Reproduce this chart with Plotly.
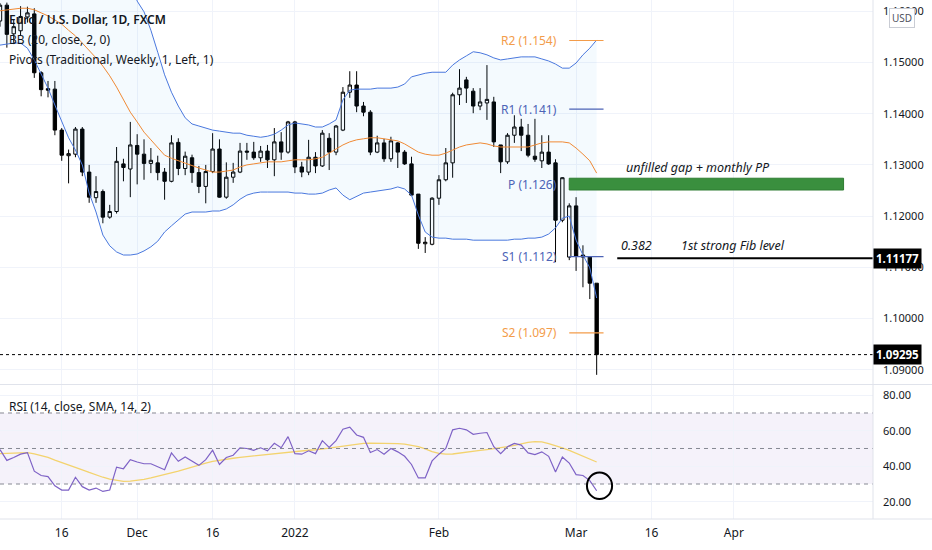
import pandas as pd
import plotly.graph_objects as go
from plotly.subplots import make_subplots

# daily bars, EUR/USD FXCM (weekdays only)
dates = pd.bdate_range("2021-11-03", "2022-03-04")

# OHLC
opens = [
    1.1581, 1.1612, 1.1556, 1.1562, 1.1589, 1.1595, 1.1480, 1.1449, 1.1448, 1.1368,
    1.1318, 1.1321, 1.1370, 1.1286, 1.1236, 1.1248, 1.1198, 1.1209, 1.1302, 1.1292,
    # dec
    1.1338, 1.1321, 1.1303, 1.1304, 1.1286, 1.1268, 1.1344, 1.1293, 1.1314, 1.1285,
    1.1258, 1.1287, 1.1331, 1.1237, 1.1276, 1.1286, 1.1327, 1.1325, 1.1314, 1.1327,
    1.1310, 1.1345, 1.1325,
    # jan
    1.1384, 1.1296, 1.1286, 1.1315, 1.1298, 1.1352, 1.1325, 1.1368, 1.1442, 1.1456,
    1.1415, 1.1403, 1.1325, 1.1343, 1.1312, 1.1343, 1.1325, 1.1302, 1.1243, 1.1146,
    1.1145,
    # feb
    1.1235, 1.1271, 1.1304, 1.1437, 1.1466, 1.1444, 1.1415, 1.1421, 1.1423, 1.1339,
    1.1306, 1.1358, 1.1374, 1.1358, 1.1317, 1.1308, 1.1325, 1.1304, 1.1192, 1.1120,
    # mar
    1.1220, 1.1124, 1.1120, 1.1069,
]
highs = [
    1.1616, 1.1617, 1.1585, 1.1610, 1.1609, 1.1606, 1.1483, 1.1464, 1.1464, 1.1372,
    1.1330, 1.1374, 1.1374, 1.1300, 1.1278, 1.1252, 1.1222, 1.1335, 1.1312, 1.1384,
    1.1360, 1.1350, 1.1333, 1.1318, 1.1294, 1.1358, 1.1352, 1.1326, 1.1320, 1.1298,
    1.1300, 1.1362, 1.1350, 1.1305, 1.1304, 1.1343, 1.1343, 1.1345, 1.1337, 1.1339,
    1.1372, 1.1364, 1.1386,
    1.1386, 1.1306, 1.1349, 1.1325, 1.1368, 1.1362, 1.1378, 1.1452, 1.1483, 1.1483,
    1.1423, 1.1407, 1.1357, 1.1351, 1.1355, 1.1345, 1.1329, 1.1316, 1.1243, 1.1159,
    1.1237,
    1.1280, 1.1333, 1.1441, 1.1487, 1.1472, 1.1450, 1.1450, 1.1495, 1.1433, 1.1339,
    1.1362, 1.1397, 1.1390, 1.1380, 1.1390, 1.1358, 1.1358, 1.1311, 1.1276, 1.1225,
    1.1237, 1.1143, 1.1120, 1.1069,
]
lows = [
    1.1570, 1.1529, 1.1536, 1.1553, 1.1578, 1.1470, 1.1434, 1.1432, 1.1358, 1.1308,
    1.1264, 1.1315, 1.1278, 1.1226, 1.1226, 1.1186, 1.1195, 1.1205, 1.1268, 1.1237,
    1.1262, 1.1271, 1.1284, 1.1270, 1.1232, 1.1266, 1.1280, 1.1280, 1.1265, 1.1245,
    1.1225, 1.1284, 1.1236, 1.1234, 1.1265, 1.1284, 1.1310, 1.1310, 1.1306, 1.1294,
    1.1278, 1.1310, 1.1322,
    1.1284, 1.1276, 1.1280, 1.1284, 1.1296, 1.1290, 1.1319, 1.1366, 1.1431, 1.1403,
    1.1395, 1.1319, 1.1323, 1.1306, 1.1306, 1.1294, 1.1300, 1.1239, 1.1136, 1.1128,
    1.1143,
    1.1222, 1.1268, 1.1275, 1.1417, 1.1421, 1.1401, 1.1407, 1.1388, 1.1335, 1.1284,
    1.1302, 1.1343, 1.1327, 1.1315, 1.1306, 1.1294, 1.1300, 1.1110, 1.1188, 1.1114,
    1.1093, 1.1061, 1.1038, 1.0890,
]
closes = [
    1.1612, 1.1555, 1.1570, 1.1590, 1.1597, 1.1480, 1.1447, 1.1446, 1.1368, 1.1319,
    1.1322, 1.1370, 1.1286, 1.1237, 1.1248, 1.1198, 1.1209, 1.1307, 1.1295, 1.1339,
    1.1321, 1.1303, 1.1309, 1.1285, 1.1268, 1.1343, 1.1293, 1.1317, 1.1285, 1.1258,
    1.1287, 1.1331, 1.1237, 1.1276, 1.1286, 1.1327, 1.1325, 1.1314, 1.1327, 1.1310,
    1.1345, 1.1325, 1.1384,
    1.1296, 1.1286, 1.1315, 1.1298, 1.1362, 1.1325, 1.1376, 1.1442, 1.1456, 1.1415,
    1.1403, 1.1325, 1.1343, 1.1312, 1.1347, 1.1325, 1.1302, 1.1241, 1.1147, 1.1149,
    1.1235,
    1.1271, 1.1304, 1.1437, 1.1450, 1.1450, 1.1415, 1.1423, 1.1428, 1.1345, 1.1306,
    1.1358, 1.1374, 1.1358, 1.1319, 1.1311, 1.1325, 1.1302, 1.1192, 1.1275, 1.1220,
    1.1122, 1.1120, 1.1069, 1.09295,
]

# Bollinger bands (20, close, 2) as drawn
bb_upper = [
    1.1667, 1.1669, 1.1671, 1.1675, 1.1685, 1.1700, 1.1716, 1.1731, 1.1749, 1.1767,
    1.1774, 1.1774, 1.1776, 1.1790, 1.1795, 1.1798, 1.1780, 1.1750, 1.1712, 1.1665,
    1.1620, 1.1599, 1.1563, 1.1520, 1.1476, 1.1442, 1.1415, 1.1392, 1.1380, 1.1376,
    1.1372, 1.1368, 1.1366, 1.1364, 1.1362, 1.1362, 1.1358, 1.1356, 1.1354, 1.1356,
    1.1360, 1.1368, 1.1378,
    1.1382, 1.1380, 1.1378, 1.1374, 1.1374, 1.1380, 1.1388, 1.1427, 1.1446, 1.1448,
    1.1448, 1.1448, 1.1450, 1.1450, 1.1450, 1.1452, 1.1458, 1.1472, 1.1476, 1.1479,
    1.1481,
    1.1481, 1.1481, 1.1495, 1.1505, 1.1513, 1.1521, 1.1519, 1.1515, 1.1509, 1.1505,
    1.1507, 1.1509, 1.1511, 1.1511, 1.1511, 1.1507, 1.1503, 1.1497, 1.1489, 1.1489,
    1.1499, 1.1515, 1.1528, 1.1544,
]
bb_basis = [
    1.1601, 1.1603, 1.1605, 1.1606, 1.1606, 1.1603, 1.1597, 1.1591, 1.1583, 1.1575,
    1.1563, 1.1552, 1.1538, 1.1524, 1.1509, 1.1493, 1.1474, 1.1452, 1.1427, 1.1403,
    1.1384, 1.1364, 1.1349, 1.1333, 1.1319, 1.1313, 1.1308, 1.1304, 1.1298, 1.1294,
    1.1290, 1.1286, 1.1286, 1.1288, 1.1290, 1.1296, 1.1300, 1.1302, 1.1304, 1.1306,
    1.1306, 1.1306, 1.1308,
    1.1310, 1.1310, 1.1310, 1.1312, 1.1315, 1.1323, 1.1331, 1.1339, 1.1345, 1.1349,
    1.1351, 1.1353, 1.1353, 1.1351, 1.1349, 1.1347, 1.1341, 1.1333, 1.1325, 1.1321,
    1.1319,
    1.1319, 1.1323, 1.1329, 1.1335, 1.1339, 1.1341, 1.1343, 1.1341, 1.1337, 1.1335,
    1.1335, 1.1335, 1.1335, 1.1335, 1.1339, 1.1343, 1.1345, 1.1345, 1.1345, 1.1343,
    1.1333, 1.1321, 1.1308, 1.1284,
]
bb_lower = [
    1.1534, 1.1536, 1.1538, 1.1538, 1.1528, 1.1505, 1.1478, 1.1450, 1.1417, 1.1384,
    1.1353, 1.1329, 1.1300, 1.1245, 1.1208, 1.1163, 1.1142, 1.1130, 1.1124, 1.1124,
    1.1126, 1.1132, 1.1140, 1.1151, 1.1169, 1.1181, 1.1192, 1.1204, 1.1208, 1.1208,
    1.1208, 1.1210, 1.1210, 1.1214, 1.1222, 1.1233, 1.1241, 1.1245, 1.1247, 1.1247,
    1.1247, 1.1247, 1.1247,
    1.1245, 1.1245, 1.1243, 1.1243, 1.1245, 1.1251, 1.1255, 1.1241, 1.1232, 1.1239,
    1.1245, 1.1247, 1.1249, 1.1251, 1.1253, 1.1257, 1.1253, 1.1241, 1.1202, 1.1169,
    1.1159,
    1.1157, 1.1157, 1.1155, 1.1155, 1.1155, 1.1153, 1.1153, 1.1153, 1.1153, 1.1153,
    1.1153, 1.1155, 1.1155, 1.1157, 1.1157, 1.1159, 1.1165, 1.1177, 1.1196, 1.1200,
    1.1153, 1.1124, 1.1099, 1.1040,
]

# RSI (14) and its SMA (14)
rsi = [
    49.4, 43.3, 44.9, 46.8, 47.7, 37.2, 34.8, 34.2, 29.0, 26.6,
    26.6, 33.8, 28.5, 26.6, 27.7, 25.8, 26.6, 39.5, 38.6, 43.7,
    42.4, 41.4, 41.4, 39.5, 38.0, 47.5, 42.8, 45.2, 42.8, 40.5,
    43.7, 49.0, 41.0, 44.9, 46.2, 50.4, 50.0, 49.0, 50.4, 48.7,
    52.9, 50.4, 56.7,
    47.1, 46.8, 48.7, 47.1, 54.4, 50.6, 54.4, 60.9, 62.0, 57.6,
    56.3, 47.7, 49.4, 46.8, 50.0, 48.1, 45.6, 41.0, 33.4, 33.4,
    43.0,
    46.8, 50.0, 60.5, 61.4, 60.5, 58.0, 58.6, 59.0, 51.0, 47.1,
    51.0, 52.9, 51.9, 47.5, 46.6, 48.1, 45.6, 36.7, 45.2, 41.8,
    35.3, 34.8, 31.9, 26.2,
]
rsi_ma = [
    47.1, 47.3, 47.5, 47.7, 47.7, 47.0, 46.2, 45.0, 43.5, 42.2,
    41.0, 39.5, 38.0, 36.5, 35.0, 33.8, 32.8, 32.0, 31.5, 31.6,
    32.0, 32.6, 33.4, 34.3, 35.2, 36.2, 37.3, 38.4, 39.6, 40.8,
    41.8, 42.7, 43.4, 44.0, 44.5, 45.0, 45.4, 45.8, 46.3, 46.8,
    47.3, 47.7, 48.2,
    48.6, 48.8, 49.0, 49.3, 49.6, 50.2, 50.8, 51.4, 52.0, 52.6,
    52.9, 53.0, 53.0, 52.9, 52.8, 52.7, 52.5, 51.9, 51.0, 49.8,
    48.2,
    47.3, 46.8, 46.9, 47.3, 47.9, 48.4, 48.9, 49.4, 49.8, 50.3,
    51.0, 51.8, 52.7, 53.5, 53.9, 53.7, 52.7, 51.6, 50.4, 48.9,
    47.3, 45.8, 44.2, 42.4,
]

# weekly pivots for the week of Feb 28
pivot_names = ["R2", "R1", "P", "S1", "S2"]
pivot_levels = [1.1543, 1.1409, 1.1262, 1.1121, 1.0972]
pivot_colors = ["#f39c4a", "#4c63b6", "#4c63b6", "#4c63b6", "#f39c4a"]
pivot_start, pivot_end = "2022-02-28", "2022-03-07"

# drawings
gap_zone = [1.1251, 1.1274]
gap_start, gap_end = "2022-02-28", "2022-04-25"
fib_level = 1.11177
fib_start = "2022-03-09"
last_price = 1.09295

tick_dates = ["2021-11-16", "2021-12-01", "2021-12-16", "2022-01-03",
              "2022-02-01", "2022-03-01", "2022-03-16", "2022-04-01"]
tick_text = ["16", "Dec", "16", "2022", "Feb", "Mar", "16", "Apr"]

x_start, x_end = "2021-11-03", "2022-04-29 07:00"

W, H = 932, 550
PLOT_W, PLOT_H = 873, 519
TXT = "#131722"
FONT = "Noto Sans"


def py(pix):
    # pixel row -> paper y
    return 1 - pix / PLOT_H


def px(pix):
    # pixel column -> paper x
    return pix / PLOT_W


fig = make_subplots(rows=2, cols=1, shared_xaxes=True)

# Bollinger bands
fig.add_trace(go.Scatter(x=dates, y=bb_upper, mode="lines",
                         line=dict(color="#4a78de", width=1)), row=1, col=1)
fig.add_trace(go.Scatter(x=dates, y=bb_lower, mode="lines", fill="tonexty",
                         fillcolor="rgba(33,150,243,0.05)",
                         line=dict(color="#4a78de", width=1)), row=1, col=1)
fig.add_trace(go.Scatter(x=dates, y=bb_basis, mode="lines",
                         line=dict(color="#f08a35", width=1)), row=1, col=1)

# pivots
for name, lvl, col in zip(pivot_names, pivot_levels, pivot_colors):
    fig.add_trace(go.Scatter(x=[pivot_start, pivot_end], y=[lvl, lvl], mode="lines",
                             line=dict(color=col, width=1.2)), row=1, col=1)
    fig.add_annotation(x=pivot_start, y=lvl, xref="x", yref="y", xanchor="right",
                       yanchor="middle", xshift=-10, showarrow=False,
                       text=f"{name} ({lvl:.3f})",
                       font=dict(family=FONT, size=12, color=col))

# candles
fig.add_trace(go.Candlestick(
    x=dates, open=opens, high=highs, low=lows, close=closes,
    increasing=dict(fillcolor="white", line=dict(color="black", width=1)),
    decreasing=dict(fillcolor="black", line=dict(color="black", width=1)),
    whiskerwidth=0,
), row=1, col=1)

# RSI
fig.add_trace(go.Scatter(x=dates, y=rsi_ma, mode="lines",
                         line=dict(color="#f3d36e", width=1.3)), row=2, col=1)
fig.add_trace(go.Scatter(x=dates, y=rsi, mode="lines",
                         line=dict(color="#7e62c6", width=1.2)), row=2, col=1)

# RSI band and levels
fig.add_shape(type="rect", xref="x2 domain", yref="y2", x0=0, x1=1, y0=30, y1=70,
              fillcolor="rgba(126,87,194,0.08)", line_width=0, layer="below")
for lvl in [70, 50, 30]:
    fig.add_shape(type="line", xref="x2 domain", yref="y2", x0=0, x1=1, y0=lvl, y1=lvl,
                  line=dict(color="#868993", width=1, dash="4px,4px"))

# gap zone + fib line + last price line
fig.add_shape(type="rect", xref="x", yref="y", x0=gap_start, x1=gap_end,
              y0=gap_zone[0], y1=gap_zone[1], fillcolor="#3a8f3e",
              line=dict(color="#2e7d32", width=1))
fig.add_shape(type="line", xref="x", yref="y", x0=fib_start, x1=x_end,
              y0=fib_level, y1=fib_level, line=dict(color="black", width=2))
fig.add_shape(type="line", xref="paper", yref="y", x0=0, x1=1,
              y0=last_price, y1=last_price, line=dict(color="black", width=1, dash="dot"))

# circle on the last RSI reading
fig.add_shape(type="circle", xref="x2", yref="y2", x0="2022-03-02 14:00",
              x1="2022-03-08 06:00", y0=21.5, y1=36.5,
              line=dict(color="black", width=2))

# pane separators
fig.add_shape(type="line", xref="paper", yref="paper", x0=1, x1=1, y0=0, y1=1,
              line=dict(color="#e0e3eb", width=1))
for pix in [384.5, 519]:
    fig.add_shape(type="line", xref="paper", yref="paper", x0=0, x1=px(W),
                  y0=py(pix), y1=py(pix), line=dict(color="#e0e3eb", width=1))

# text drawings
ital = dict(family=FONT, size=12.5, color=TXT)
fig.add_annotation(x="2022-03-10", y=gap_zone[1], xref="x", yref="y", xanchor="left",
                   yanchor="bottom", showarrow=False, font=ital,
                   text="<i>unfilled gap + monthly PP</i>")
fig.add_annotation(x=fib_start, y=fib_level, xref="x", yref="y", xanchor="left",
                   yanchor="bottom", xshift=2, yshift=2, showarrow=False, font=ital,
                   text="<i>0.382</i>")
fig.add_annotation(x="2022-03-22", y=fib_level, xref="x", yref="y", xanchor="left",
                   yanchor="bottom", yshift=2, showarrow=False, font=ital,
                   text="<i>1st strong Fib level</i>")

# legend texts
legend_rows = [
    ("Euro / U.S. Dollar, 1D, FXCM", 19, 600),
    ("BB (20, close, 2, 0)", 39, 400),
    ("Pivots (Traditional, Weekly, 1, Left, 1)", 59, 400),
    ("RSI (14, close, SMA, 14, 2)", 406, 400),
]
for txt, row_pix, wt in legend_rows:
    fig.add_annotation(x=px(7), y=py(row_pix), xref="paper", yref="paper",
                       xanchor="left", yanchor="middle", showarrow=False, text=txt,
                       font=dict(family=FONT, size=12, color=TXT, weight=wt))

# price axis labels
for lvl in [fib_level, last_price]:
    fig.add_annotation(x=1, y=lvl, xref="paper", yref="y", xanchor="left",
                       yanchor="middle", showarrow=False, text=f"<b>{lvl:.5f}</b>",
                       bgcolor="black", borderpad=2,
                       font=dict(family=FONT, size=11.5, color="white"))
fig.add_annotation(x=px(902), y=py(18), xref="paper", yref="paper", xanchor="center",
                   yanchor="middle", showarrow=False, text="USD", bgcolor="white",
                   bordercolor="#c9ccd4", borderwidth=1, borderpad=2,
                   font=dict(family=FONT, size=10, color="#50535e"))

fig.update_xaxes(
    range=[x_start, x_end],
    rangebreaks=[dict(bounds=["sat", "mon"])],
    rangeslider_visible=False,
    tickvals=tick_dates, ticktext=tick_text,
    showgrid=True, gridcolor="#f0f3fa", zeroline=False, showline=False,
    tickfont=dict(family=FONT, size=12, color=TXT),
)
fig.update_xaxes(showticklabels=False, row=1, col=1)
fig.update_xaxes(ticklabelstandoff=5, row=2, col=1)

fig.update_layout(
    width=W, height=H,
    margin=dict(l=0, r=W - PLOT_W, t=0, b=H - PLOT_H),
    paper_bgcolor="white", plot_bgcolor="white",
    showlegend=False,
    yaxis=dict(domain=[py(384), 1], range=[1.08721, 1.16221], side="right",
               dtick=0.01, tick0=1.0, tickformat=".5f", gridcolor="#f0f3fa",
               zeroline=False, ticklabelstandoff=9,
               tickfont=dict(family=FONT, size=11, color=TXT)),
    yaxis2=dict(domain=[0, py(385)], range=[10.28, 85.77], side="right",
                tickvals=[20, 40, 60, 80], tickformat=".2f", gridcolor="#f0f3fa",
                zeroline=False, ticklabelstandoff=9,
                tickfont=dict(family=FONT, size=11, color=TXT)),
)

# page body has a default 8px margin; drop it so the chart sits at the corner
fig.write_html("out.html", config={"displayModeBar": False},
               post_script="document.body.style.margin='0px';")
